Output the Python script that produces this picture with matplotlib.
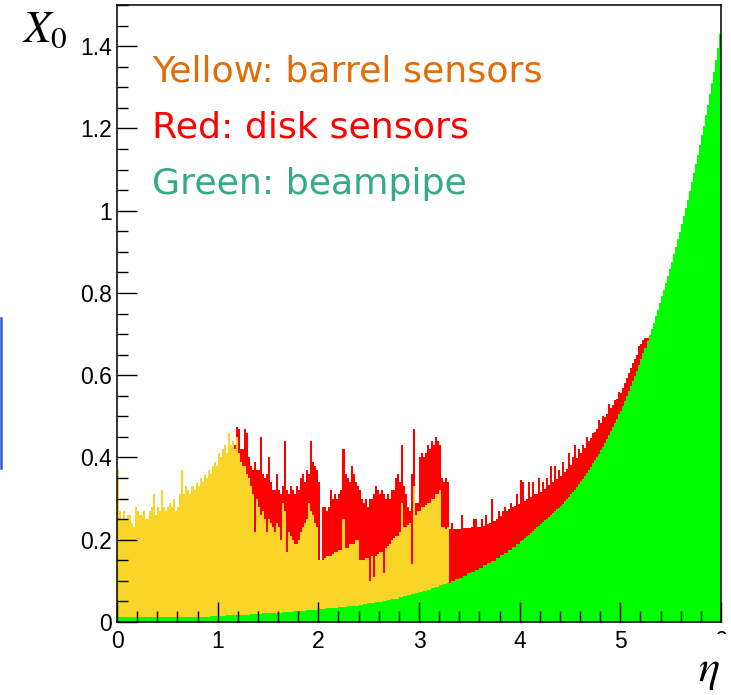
import numpy as np
import matplotlib
matplotlib.use("Agg")
import matplotlib.pyplot as plt
from matplotlib.ticker import MultipleLocator, FuncFormatter
from matplotlib.transforms import Bbox
from matplotlib.lines import Line2D

# Material budget X0 versus pseudorapidity over 0 < eta < 6.
eta_min, eta_max = 0.0, 6.0
n_fine_bins = 300      # sensor histograms: 0.02-wide bins
pipe_split = 4.0       # beampipe: 0.04 bins below, 0.02 bins above

# Beampipe only (green): 100 bins of 0.04 on [0, 4), then 100 bins of 0.02 on [4, 6)
x0_pipe = [
    0.011, 0.011, 0.011, 0.011, 0.011, 0.011, 0.011, 0.011, 0.011, 0.011,
    0.011, 0.011, 0.011, 0.011, 0.011, 0.011, 0.011, 0.011, 0.011, 0.011,
    0.012, 0.013, 0.013, 0.014, 0.014, 0.015, 0.015, 0.016, 0.016, 0.017,
    0.017, 0.018, 0.018, 0.019, 0.019, 0.020, 0.021, 0.021, 0.022, 0.022,
    0.023, 0.024, 0.024, 0.025, 0.026, 0.027, 0.027, 0.028, 0.029, 0.030,
    0.031, 0.032, 0.033, 0.034, 0.035, 0.036, 0.037, 0.038, 0.039, 0.040,
    0.042, 0.043, 0.045, 0.046, 0.048, 0.049, 0.051, 0.053, 0.055, 0.057,
    0.060, 0.062, 0.065, 0.067, 0.070, 0.073, 0.076, 0.079, 0.082, 0.085,
    0.089, 0.092, 0.096, 0.100, 0.104, 0.108, 0.113, 0.118, 0.122, 0.127,
    0.132, 0.138, 0.143, 0.149, 0.155, 0.162, 0.168, 0.175, 0.182, 0.190,
    0.196, 0.200, 0.204, 0.208, 0.212, 0.216, 0.221, 0.225, 0.230, 0.234,
    0.238, 0.242, 0.247, 0.251, 0.256, 0.260, 0.265, 0.269, 0.274, 0.278,
    0.283, 0.288, 0.293, 0.299, 0.304, 0.310, 0.316, 0.322, 0.329, 0.335,
    0.342, 0.348, 0.355, 0.362, 0.370, 0.378, 0.386, 0.394, 0.401, 0.409,
    0.417, 0.426, 0.435, 0.445, 0.454, 0.464, 0.474, 0.484, 0.494, 0.505,
    0.514, 0.526, 0.538, 0.550, 0.561, 0.573, 0.586, 0.598, 0.611, 0.625,
    0.639, 0.653, 0.667, 0.682, 0.697, 0.712, 0.728, 0.744, 0.759, 0.775,
    0.792, 0.808, 0.825, 0.842, 0.859, 0.876, 0.894, 0.912, 0.930, 0.949,
    0.968, 0.988, 1.007, 1.027, 1.048, 1.069, 1.091, 1.113, 1.136, 1.159,
    1.183, 1.207, 1.232, 1.257, 1.283, 1.310, 1.338, 1.366, 1.396, 1.430,
]

# Beampipe + barrel sensors (yellow), 0.02 bins from eta = 0 to 3.30
x0_pipe_barrel = [
    0.37, 0.27, 0.25, 0.27, 0.25, 0.26, 0.26, 0.24, 0.23, 0.28,
    0.27, 0.26, 0.26, 0.27, 0.25, 0.25, 0.27, 0.28, 0.31, 0.26,
    0.28, 0.27, 0.32, 0.28, 0.27, 0.28, 0.29, 0.28, 0.30, 0.27,
    0.28, 0.31, 0.37, 0.31, 0.33, 0.32, 0.31, 0.33, 0.32, 0.34,
    0.33, 0.35, 0.34, 0.36, 0.35, 0.37, 0.36, 0.38, 0.39, 0.38,
    0.41, 0.40, 0.42, 0.43, 0.41, 0.46, 0.43, 0.44, 0.42, 0.45,
    0.41, 0.39, 0.38, 0.38, 0.36, 0.35, 0.33, 0.31, 0.22, 0.30,
    0.28, 0.26, 0.27, 0.25, 0.22, 0.25, 0.24, 0.23, 0.22, 0.24,
    0.23, 0.20, 0.29, 0.27, 0.17, 0.22, 0.21, 0.20, 0.19, 0.19,
    0.20, 0.22, 0.23, 0.24, 0.25, 0.29, 0.27, 0.26, 0.24, 0.23,
    0.15, 0.15, 0.15, 0.155, 0.16, 0.16, 0.16, 0.165, 0.17, 0.17,
    0.175, 0.175, 0.25, 0.18, 0.18, 0.19, 0.19, 0.19, 0.20, 0.20,
    0.15, 0.15, 0.15, 0.155, 0.155, 0.10, 0.16, 0.11, 0.16, 0.165,
    0.17, 0.17, 0.12, 0.18, 0.185, 0.19, 0.20, 0.205, 0.21, 0.21,
    0.22, 0.29, 0.23, 0.23, 0.235, 0.24, 0.14, 0.33, 0.26, 0.27,
    0.27, 0.28, 0.28, 0.285, 0.29, 0.29, 0.30, 0.30, 0.31, 0.31,
    0.32, 0.23, 0.23, 0.225, 0.23,
]

# Total including disk sensors (red), 0.02 bins from eta = 1.16 to 5.28
total_first_bin = 58
x0_total = [
    0.43, 0.475, 0.47, 0.42, 0.42, 0.47, 0.46, 0.40, 0.38, 0.37,
    0.39, 0.37, 0.37, 0.45, 0.36, 0.35, 0.36, 0.40, 0.34, 0.32,
    0.32, 0.36, 0.32, 0.31, 0.33, 0.44, 0.32, 0.31, 0.33, 0.32,
    0.31, 0.33, 0.32, 0.35, 0.36, 0.34, 0.37, 0.36, 0.44, 0.39,
    0.38, 0.37, 0.34, 0.15, 0.28, 0.28, 0.27, 0.28, 0.32, 0.30,
    0.31, 0.30, 0.31, 0.32, 0.42, 0.36, 0.35, 0.34, 0.38, 0.36,
    0.34, 0.33, 0.32, 0.30, 0.29, 0.30, 0.28, 0.30, 0.30, 0.31,
    0.33, 0.32, 0.31, 0.32, 0.31, 0.30, 0.31, 0.30, 0.32, 0.32,
    0.35, 0.36, 0.34, 0.43, 0.33, 0.31, 0.28, 0.27, 0.36, 0.47,
    0.29, 0.29, 0.40, 0.41, 0.40, 0.41, 0.43, 0.42, 0.44, 0.43,
    0.45, 0.44, 0.43, 0.35, 0.34, 0.35, 0.34, 0.225, 0.24, 0.225,
    0.226, 0.226, 0.227, 0.26, 0.228, 0.228, 0.229, 0.229, 0.230, 0.25,
    0.25, 0.231, 0.232, 0.25, 0.234, 0.26, 0.238, 0.240, 0.30, 0.246,
    0.250, 0.27, 0.258, 0.27, 0.28, 0.270, 0.274, 0.29, 0.280, 0.283,
    0.31, 0.288, 0.345, 0.34, 0.295, 0.298, 0.34, 0.304, 0.34, 0.310,
    0.312, 0.35, 0.317, 0.34, 0.324, 0.35, 0.332, 0.38, 0.340, 0.38,
    0.348, 0.37, 0.354, 0.39, 0.365, 0.371, 0.41, 0.382, 0.40, 0.43,
    0.399, 0.42, 0.410, 0.43, 0.424, 0.45, 0.439, 0.447, 0.46, 0.462,
    0.47, 0.49, 0.484, 0.50, 0.498, 0.506, 0.53, 0.520, 0.527, 0.54,
    0.542, 0.56, 0.557, 0.569, 0.58, 0.593, 0.606, 0.618, 0.63, 0.640,
    0.65, 0.67, 0.675, 0.685, 0.69, 0.69,
]

legend_lines = ["Yellow: barrel sensors", "Red: disk sensors", "Green: beampipe"]
legend_colors = ["#e06d0a", "#ff0000", "#33aa88"]

W, H = 731, 695
fig = plt.figure(figsize=(W / 100, H / 100), dpi=100)
ax = fig.add_axes([117 / W, 73 / H, 604 / W, 617 / H])

fine_edges = np.linspace(eta_min, eta_max, n_fine_bins + 1)
pipe_edges = np.concatenate([np.linspace(eta_min, pipe_split, 101),
                             np.linspace(pipe_split, eta_max, 101)[1:]])
ax.stairs(x0_total, fine_edges[total_first_bin:total_first_bin + len(x0_total) + 1],
          fill=True, color="#ff0000", lw=0)
ax.stairs(x0_pipe_barrel, fine_edges[:len(x0_pipe_barrel) + 1],
          fill=True, color="#f9d52a", lw=0)
ax.stairs(x0_pipe, pipe_edges, fill=True, color="#00ff00", lw=0)

ax.set_xlim(0, 6)
ax.set_ylim(0, 1.5)
ax.xaxis.set_major_locator(MultipleLocator(1))
ax.xaxis.set_minor_locator(MultipleLocator(0.2))
ax.yaxis.set_major_locator(MultipleLocator(0.2))
ax.yaxis.set_minor_locator(MultipleLocator(0.05))
ax.xaxis.set_major_formatter(FuncFormatter(lambda v, p: "" if v > 5.5 else f"{v:g}"))
ax.yaxis.set_major_formatter(FuncFormatter(lambda v, p: f"{round(v, 2):g}"))
ax.tick_params(which="both", direction="in", top=False, right=False, width=1.0,
               colors="black", labelsize=16.5)
ax.tick_params(which="major", length=14.4)
ax.tick_params(which="minor", length=7.9)
ax.tick_params(axis="y", pad=3.6)
ax.tick_params(axis="x", pad=5.8)
for lab in ax.get_xticklabels() + ax.get_yticklabels():
    lab.set_family("Liberation Sans")
for sp in ax.spines.values():
    sp.set_linewidth(1.1)

# Partially hidden "6" under the last x tick
six = fig.text(721 / W, 1 - 630 / H, "6", ha="center", va="top",
               fontsize=16.5, family="Liberation Sans")
six.set_clip_box(Bbox([[700, H - 634], [740, H - 626]]))
six.set_clip_on(True)

plt.rcParams["mathtext.fontset"] = "stix"
fig.text(22 / W, 1 - 42 / H, r"$X_0$", fontsize=32, ha="left", va="baseline")
fig.text(698 / W, 1 - 681 / H, r"$\eta$", fontsize=32, ha="left", va="baseline")

for i, (txt, col) in enumerate(zip(legend_lines, legend_colors)):
    fig.text(152 / W, 1 - (82 + 56 * i) / H, txt, color=col, fontsize=26.2,
             family="DejaVu Sans", ha="left", va="baseline")

fig.add_artist(Line2D([1.2 / W, 1.2 / W], [1 - 318 / H, 1 - 468 / H],
                      color="#3055d5", lw=1.8))

fig.savefig("out.png", dpi=100)
